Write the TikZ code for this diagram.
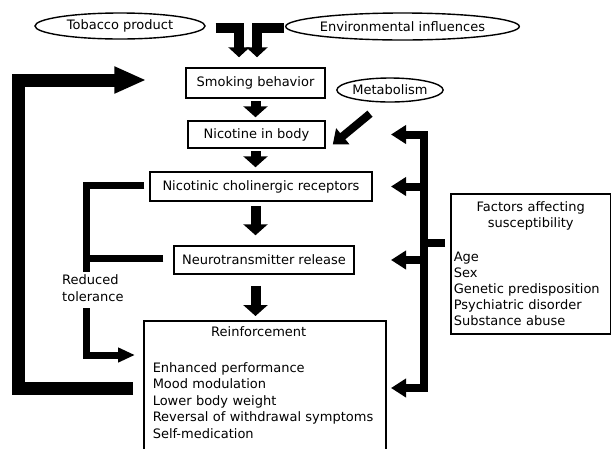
\documentclass[tikz,border=0pt]{standalone}
\usepackage{fontspec}
\setmainfont{DejaVu Sans}
\usetikzlibrary{arrows.meta,shapes.geometric,calc}

\tikzset{
  box/.style={draw=black, line width=1.5pt, inner sep=0pt},
  oval/.style={ellipse, draw=black, line width=1.4pt, inner sep=0pt},
  flow/.style={line width=10pt, -{Triangle[length=11pt, width=24pt]}},
  feed/.style={line width=10pt, -{Triangle[length=10pt, width=21pt]}},
  metarrow/.style={line width=8pt, -{Triangle[length=13pt, width=20pt]}},
  backloop/.style={line width=13pt, -{Triangle[length=32pt, width=25pt]}},
  bracket/.style={line width=7pt},
  sidebar/.style={line width=8pt},
  side/.style={sidebar, -{Triangle[length=15pt, width=18pt]}}
}

\begin{document}
\begin{tikzpicture}[x=1pt, y=-1pt, font=\fontsize{13}{16.5}\selectfont]
  \useasboundingbox (0,0) rectangle (611,448);

  % Inputs
  \node[oval, minimum width=170pt, minimum height=26pt] (tobacco) at (120,26) {Tobacco product};
  \node[oval, minimum width=219pt, minimum height=27pt] (environ) at (402.5,26.5) {Environmental influences};
  \node[oval, minimum width=90pt, minimum height=24pt] (metab) at (390,90) {Metabolism};

  % Main chain
  \node[box, minimum width=139pt, minimum height=30pt] (smoking) at (255.5,83) {Smoking behavior};
  \node[box, minimum width=137pt, minimum height=27pt] (nicotine) at (256.5,134.5) {Nicotine in body};
  \node[box, minimum width=222pt, minimum height=29pt] (receptors) at (261,186.5) {Nicotinic cholinergic receptors};
  \node[box, minimum width=180pt, minimum height=28pt] (release) at (264,260) {Neurotransmitter release};
  \node[box, anchor=north west, text width=224pt, inner xsep=9pt, inner ysep=6pt,
        text depth=125pt, align=left] (reinf) at (143,320)
    {{\centering\hspace*{-12pt}Reinforcement\par}\vspace{19pt}%
     Enhanced performance\\Mood modulation\\Lower body weight\\%
     Reversal of withdrawal symptoms\\Self-medication};

  % Susceptibility
  \node[box, anchor=north west, text width=154pt, inner xsep=3pt, inner ysep=8pt,
        align=left, font=\fontsize{13}{16}\selectfont] (factors) at (450,193)
    {{\centering Factors affecting\\susceptibility\par}\vspace{18pt}%
     Age\\Sex\\Genetic predisposition\\Psychiatric disorder\\Substance abuse};

  % Tolerance label
  \node[align=left, anchor=west, inner sep=0pt] (tolerance) at (62,288) {Reduced\\tolerance};

  \coordinate (tolup) at (86,272);
  \coordinate (tollow) at (86,308);
  \coordinate (loopcorner) at (18.5,200);
  \coordinate (tipcol) at (391,0);
  \coordinate (sidetop) at (424,134.5);
  \coordinate (sidebot) at (424,388);

  % Feeds into smoking behavior
  \draw[feed] ($(tobacco.east)+(10,1.5)$) -| ($(smoking.north)+(-16.5,-10)$);
  \draw[feed] ($(environ.west)+(-1,1.5)$) -| ($(smoking.north)+(1.5,-10)$);

  % Down arrows
  \foreach \a/\b/\s/\e in {smoking/nicotine/2/3, nicotine/receptors/2/4,
                            receptors/release/4/10, release/reinf/11/4}
    \draw[flow] ($(\a.south -| smoking.south)+(0,\s)$) -- ($(\b.north -| smoking.south)+(0,-\e)$);

  \draw[metarrow] ($(metab.south)+(-20,11)$) -- ($(nicotine.east)+(7,10)$);

  % Feedback loop
  \draw[backloop] ($(reinf.north west)+(-10,68)$) -| (loopcorner) |- ($(smoking.west)+(-39,-3)$);

  % Reduced tolerance
  \draw[bracket] ($(receptors.west)+(-5,-1)$) -| (tolup);
  \draw[bracket] ($(release.west)+(-10,-2)$) -- ($(release.west -| tolup)+(0,-2)$);
  \draw[bracket, -{Triangle[length=17pt, width=14pt]}] (tollow) |- ($(reinf.north west)+(-8,35)$);

  % Factors affecting susceptibility
  \draw[sidebar, {Triangle[length=15pt, width=18pt]}-{Triangle[length=15pt, width=18pt]}]
    (sidetop -| tipcol) -- (sidetop) -- (sidebot) -- (sidebot -| tipcol);
  \foreach \n in {receptors, release}
    \draw[side] (\n.east -| sidetop) -- (\n.east -| tipcol);
  \draw[sidebar] ($(factors.north west)+(-5,50)$) -- ($(factors.north west -| sidetop)+(0,50)$);

\end{tikzpicture}
\end{document}
